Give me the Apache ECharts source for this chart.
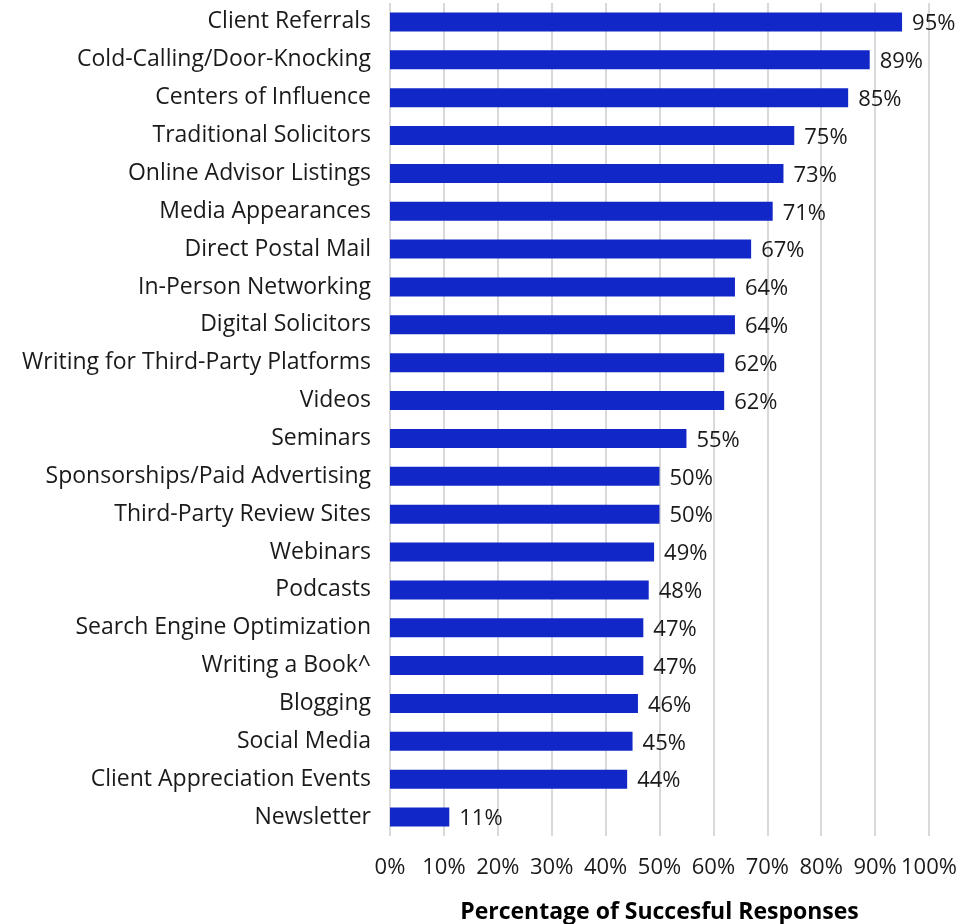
<!DOCTYPE html>
<html>
<head>
<meta charset="utf-8">
<title>Percentage of Succesful Responses</title>
<script src="https://cdn.jsdelivr.net/npm/echarts@6/dist/echarts.min.js"></script>
<style>
  html, body { margin: 0; padding: 0; background: #ffffff; }
  #chart { width: 978px; height: 924px; }
</style>
</head>
<body>
<div id="chart"></div>
<script>
// Marketing channels, listed top to bottom
const categories = [
  'Client Referrals',
  'Cold-Calling/Door-Knocking',
  'Centers of Influence',
  'Traditional Solicitors',
  'Online Advisor Listings',
  'Media Appearances',
  'Direct Postal Mail',
  'In-Person Networking',
  'Digital Solicitors',
  'Writing for Third-Party Platforms',
  'Videos',
  'Seminars',
  'Sponsorships/Paid Advertising',
  'Third-Party Review Sites',
  'Webinars',
  'Podcasts',
  'Search Engine Optimization',
  'Writing a Book^',
  'Blogging',
  'Social Media',
  'Client Appreciation Events',
  'Newsletter'
];

// Share of successful responses, in percent
const successRates = [95, 89, 85, 75, 73, 71, 67, 64, 64, 62, 62, 55, 50, 50, 49, 48, 47, 47, 46, 45, 44, 11];

// Percent ticks along the value axis
const tickValues = [0, 10, 20, 30, 40, 50, 60, 70, 80, 90, 100];

const axisName = 'Percentage of Succesful Responses';

const FONT = '"Open Sans", "Noto Sans", sans-serif';
const TEXT = '#1a1a1a';

const chart = echarts.init(document.getElementById('chart'), null, { renderer: 'canvas' });

chart.setOption({
  animation: false,
  backgroundColor: '#ffffff',
  grid: { left: 390, right: 49, top: 3, bottom: 88, containLabel: false, outerBoundsMode: 'none' },
  xAxis: {
    type: 'value',
    min: tickValues[0],
    max: tickValues[tickValues.length - 1],
    interval: tickValues[1] - tickValues[0],
    name: axisName,
    nameLocation: 'middle',
    nameGap: 65,
    nameTextStyle: { fontFamily: FONT, fontSize: 23, fontWeight: 'bold', color: '#000' },
    axisLine: { show: false },
    axisTick: { show: false },
    axisLabel: {
      formatter: '{value}%',
      fontFamily: FONT,
      fontSize: 22,
      color: TEXT,
      margin: 21
    },
    splitLine: { show: true, lineStyle: { color: '#d9d9d9', width: 2 } }
  },
  yAxis: {
    type: 'category',
    data: categories,
    inverse: true,
    axisLine: { show: false },
    axisTick: { show: false },
    axisLabel: {
      fontFamily: FONT,
      fontSize: 23,
      color: TEXT,
      margin: 19,
      padding: [6, 0, 0, 0]
    }
  },
  series: [{
    type: 'bar',
    data: successRates,
    barWidth: 19,
    itemStyle: { color: '#1227c7' },
    label: {
      show: true,
      position: 'right',
      distance: 10,
      offset: [0, 2],
      formatter: '{c}%',
      fontFamily: FONT,
      fontSize: 22,
      color: TEXT
    }
  }]
});
</script>
</body>
</html>
